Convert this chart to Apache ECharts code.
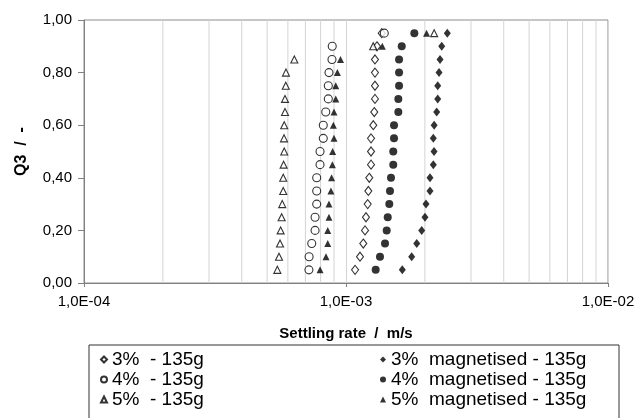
<!DOCTYPE html>
<html><head><meta charset="utf-8">
<script src="https://cdn.jsdelivr.net/npm/echarts@6/dist/echarts.min.js"></script>
<style>html,body{margin:0;padding:0;background:#fff}#c{width:640px;height:418px}</style>
</head><body><div id="c"></div>
<script>
const q3 = [0.05,0.10,0.15,0.20,0.25,0.30,0.35,0.40,0.45,0.50,0.55,0.60,0.65,0.70,0.75,0.80,0.85,0.90,0.95];
const s3 = [1.083e-3,1.131e-3,1.164e-3,1.182e-3,1.192e-3,1.210e-3,1.217e-3,1.227e-3,1.246e-3,1.246e-3,1.246e-3,1.271e-3,1.282e-3,1.290e-3,1.290e-3,1.290e-3,1.290e-3,1.313e-3,1.369e-3];
const s4 = [7.22e-4,7.23e-4,7.40e-4,7.62e-4,7.62e-4,7.73e-4,7.73e-4,7.73e-4,7.96e-4,7.96e-4,8.19e-4,8.19e-4,8.37e-4,8.56e-4,8.56e-4,8.61e-4,8.84e-4,8.86e-4,1.40e-3];
const s5 = [5.47e-4,5.55e-4,5.60e-4,5.63e-4,5.68e-4,5.71e-4,5.76e-4,5.76e-4,5.78e-4,5.81e-4,5.80e-4,5.81e-4,5.85e-4,5.85e-4,5.89e-4,5.90e-4,6.35e-4,1.27e-3,2.17e-3];
const m3 = [1.640e-3,1.781e-3,1.862e-3,1.945e-3,2.002e-3,2.020e-3,2.092e-3,2.092e-3,2.154e-3,2.168e-3,2.154e-3,2.170e-3,2.219e-3,2.239e-3,2.239e-3,2.265e-3,2.285e-3,2.319e-3,2.436e-3];
const m4 = [1.298e-3,1.348e-3,1.409e-3,1.430e-3,1.443e-3,1.463e-3,1.472e-3,1.485e-3,1.515e-3,1.515e-3,1.525e-3,1.525e-3,1.584e-3,1.584e-3,1.594e-3,1.594e-3,1.594e-3,1.632e-3,1.823e-3];
const m5 = [7.96e-4,8.39e-4,8.52e-4,8.52e-4,8.61e-4,8.61e-4,8.76e-4,8.81e-4,8.87e-4,8.89e-4,9.00e-4,8.95e-4,9.00e-4,9.14e-4,9.14e-4,9.27e-4,9.53e-4,1.376e-3,2.03e-3];
const names = ['3%  - 135g','4%  - 135g','5%  - 135g','3%  magnetised - 135g','4%  magnetised - 135g','5%  magnetised - 135g'];
const xTicks = ['1,0E-04','1,0E-03','1,0E-02'];

const FONT = 'Liberation Sans, Arial, sans-serif';
function pts(arr){ return arr.map((v,i)=>[v,q3[i]]); }
// minor log gridlines at 2..9 x each decade, built as a line series with gaps
const gridLineData = [];
for (let e = -4; e < -2; e++) for (let k = 2; k <= 9; k++) {
  const v = +(k*Math.pow(10,e)).toPrecision(3);
  gridLineData.push([v,0],[v,1],'-');
}

const open = {color:'#fff', borderColor:'#000', borderWidth:1.1};
const fill = {color:'#000', borderColor:'#000', borderWidth:0};
const mk = (name, data, symbol, size, style) => ({
  name, type:'scatter', data:pts(data), symbol, symbolSize:size, itemStyle:style, z:5
});
const legendBase = {orient:'vertical', top:350, height:120, padding:0, itemWidth:6, itemHeight:6, itemGap:1,
  textStyle:{fontFamily:FONT, fontSize:19, color:'#000', lineHeight:19}};

const chart = echarts.init(document.getElementById('c'), null, {renderer:'canvas'});
chart.setOption({
  animation:false,
  textStyle:{fontFamily:FONT},
  grid:{left:84, right:32, top:20, bottom:135, show:true, borderColor:'#8c8c8c', borderWidth:1},
  xAxis:{type:'log', logBase:10, min:1e-4, max:1e-2,
    name:'Settling rate  /  m/s', nameLocation:'middle', nameGap:43,
    nameTextStyle:{fontFamily:FONT, fontSize:15, fontWeight:'bold', color:'#000'},
    axisLine:{lineStyle:{color:'#808080'}},
    axisTick:{show:true, length:4, lineStyle:{color:'#808080'}},
    axisLabel:{fontFamily:FONT, fontSize:15, color:'#000', margin:11,
      formatter:v=>{const e=Math.round(Math.log10(v)); return xTicks[e+4];}},
    splitLine:{show:true, lineStyle:{color:'#d4d4d4'}}},
  yAxis:{type:'value', min:0, max:1, interval:0.2,
    name:'Q3  /  -', nameLocation:'middle', nameGap:54, nameRotate:90,
    nameTextStyle:{fontFamily:FONT, fontSize:16, fontWeight:'bold', color:'#000'},
    axisLine:{show:true, lineStyle:{color:'#808080'}},
    axisTick:{show:true, length:6, lineStyle:{color:'#808080'}},
    axisLabel:{fontFamily:FONT, fontSize:15, color:'#000', margin:12,
      formatter:v=>v.toFixed(2).replace('.',',')},
    splitLine:{show:false}},
  legend:[
    Object.assign({data:names.slice(0,3), left:100}, legendBase),
    Object.assign({data:names.slice(3), left:380}, legendBase)
  ],
  graphic:[{type:'rect', shape:{x:89, y:345, width:530, height:90}, style:{fill:'none', stroke:'#333', lineWidth:1}}],
  series:[
    {type:'line', data:gridLineData, symbol:'none', silent:true, connectNulls:false, z:1,
      lineStyle:{color:'#d4d4d4', width:1}},
    mk(names[0], s3, 'diamond', [7,9], open),
    mk(names[1], s4, 'circle', 8, open),
    mk(names[2], s5, 'triangle', 7, open),
    mk(names[3], m3, 'diamond', [7,9], fill),
    mk(names[4], m4, 'circle', 8, fill),
    mk(names[5], m5, 'triangle', 7, fill)
  ]
});
</script></body></html>
